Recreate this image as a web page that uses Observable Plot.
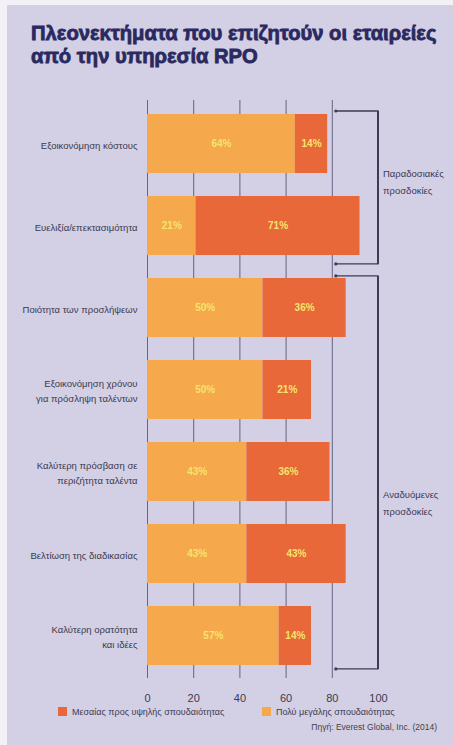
<!DOCTYPE html>
<html><head><meta charset="utf-8">
<script src="https://cdn.jsdelivr.net/npm/d3@7"></script>
<script src="https://cdn.jsdelivr.net/npm/@observablehq/plot@0.6"></script>
<style>
body{margin:0;background:#f3f1f6;width:453px;height:745px;overflow:hidden;position:relative;font-family:"Liberation Sans",Arial,sans-serif}
#bg{position:absolute;left:7px;top:5px;right:0;bottom:0;background:#d3cfe4}
#title{position:absolute;left:31px;top:22px;font-size:20.2px;line-height:23px;font-weight:bold;color:#2a2960;-webkit-text-stroke:0.8px #2a2960;white-space:nowrap}
#chart{position:absolute;left:0;top:85px}
.lg{position:absolute;top:706px;font-size:9px;color:#3a3a55;white-space:nowrap;line-height:12px}
.sw{position:absolute;top:707px;width:9px;height:9px}
#source{position:absolute;top:722px;right:16px;font-size:8.5px;color:#444;white-space:nowrap}
</style></head>
<body>
<div id="bg"></div>
<div id="title">Πλεονεκτήματα που επιζητούν οι εταιρείες<br>από την υπηρεσία RPO</div>
<div id="chart"></div>
<div id="legend"></div>
<div id="source">Πηγή: Everest Global, Inc. (2014)</div>
<script>
const categories = [
  "Εξοικονόμηση κόστους",
  "Ευελιξία/επεκτασιμότητα",
  "Ποιότητα των προσλήψεων",
  "Εξοικονόμηση χρόνου\nγια πρόσληψη ταλέντων",
  "Καλύτερη πρόσβαση σε\nπεριζήτητα ταλέντα",
  "Βελτίωση της διαδικασίας",
  "Καλύτερη ορατότητα\nκαι ιδέες"
];
const veryHigh = [64, 21, 50, 50, 43, 43, 57];
const mediumHigh = [14, 71, 36, 21, 36, 43, 14];
const seriesNames = ["Πολύ μεγάλης σπουδαιότητας", "Μεσαίας προς υψηλής σπουδαιότητας"];
const seriesColors = ["#f6a84c", "#e8683a"];
const xTicks = [0, 20, 40, 60, 80, 100];
const gridTicks = [0, 20, 40, 60, 80];
const groupLabels = ["Παραδοσιακές\nπροσδοκίες", "Αναδυόμενες\nπροσδοκίες"];
const groupFirst = [0, 2];
const groupLast = [1, 6];

const rows = categories.flatMap((c, i) => [
  {cat: c, series: seriesNames[0], value: veryHigh[i]},
  {cat: c, series: seriesNames[1], value: mediumHigh[i]}
]);

const bracketStyle = {topOff: [0.13, 0.09], botOff: [0.39, 0.17], labelFrac: [0.47, 0.58], stroke: "#3b3d58"};

function brackets(index, scales, values, dimensions) {
  const {x, y} = scales;
  const bw = y.bandwidth(), gap = y.step() - bw;
  const g = d3.create("svg:g");
  const xr = x(xTicks[xTicks.length - 1]);
  const xl = x(gridTicks[gridTicks.length - 1]) + 4;
  groupLabels.forEach((label, k) => {
    const top = y(categories[groupFirst[k]]) - gap * bracketStyle.topOff[k];
    const bottom = y(categories[groupLast[k]]) + bw + gap * bracketStyle.botOff[k];
    g.append("path")
      .attr("d", `M${xl},${top}H${xr}V${bottom}H${xl}`)
      .attr("fill", "none").attr("stroke", bracketStyle.stroke).attr("stroke-width", 1.3);
    g.append("line").attr("x1", xr).attr("x2", xr).attr("y1", top).attr("y2", bottom)
      .attr("stroke", bracketStyle.stroke).attr("stroke-width", 2);
    [top, bottom].forEach(yy => g.append("circle").attr("cx", xl).attr("cy", yy).attr("r", 1.6).attr("fill", bracketStyle.stroke));
    const cy = top + (bottom - top) * bracketStyle.labelFrac[k];
    const lines = label.split("\n");
    const t = g.append("text").attr("x", xr + 5).attr("y", cy - (lines.length - 1) * 8.5)
      .attr("font-size", 9.5).attr("fill", "#3a3a55").attr("dominant-baseline", "middle")
      .attr("text-anchor", "start");
    lines.forEach((l, i) => t.append("tspan").attr("x", xr + 5).attr("dy", i ? 17 : 0).text(l));
  });
  return g.node();
}

const chart = Plot.plot({
  width: 453, height: 620,
  marginLeft: 147, marginRight: 75, marginTop: 3, marginBottom: 14.4,
  style: {background: "transparent", fontFamily: "Liberation Sans, Arial, sans-serif"},
  x: {domain: [0, 100], label: null},
  y: {domain: categories, paddingInner: 0.28, paddingOuter: 0.28, axis: null},
  color: {domain: seriesNames, range: seriesColors},
  marks: [
    Plot.ruleX(gridTicks, {x: d => d, stroke: "#585a78", strokeWidth: 1, strokeOpacity: 0.9, insetTop: 12, insetBottom: 12.6}),
    Plot.barX(rows, {y: "cat", x: "value", fill: "series"}),
    Plot.textX(rows, Plot.stackX({y: "cat", x: "value", text: d => d.value + "%", fill: "#f5e46c", fontWeight: "bold", fontSize: 10})),
    Plot.text(categories, {y: d => d, text: d => d, frameAnchor: "left", textAnchor: "end", dx: -10, fontSize: 9.5, fill: "#3a3a50", lineHeight: 1.55}),
    Plot.axisX(xTicks, {tickSize: 0, tickPadding: 3, fontSize: 11, fill: "#3a3a55", label: null}),
    brackets
  ]
});
document.getElementById("chart").appendChild(chart);

const legend = document.getElementById("legend");
const swX = [58, 262];
const order = [1, 0];
order.forEach((s, k) => {
  const sw = document.createElement("div");
  sw.className = "sw"; sw.style.left = swX[k] + "px"; sw.style.background = seriesColors[s];
  legend.appendChild(sw);
  const tx = document.createElement("div");
  tx.className = "lg"; tx.style.left = (swX[k] + 14) + "px"; tx.textContent = seriesNames[s];
  legend.appendChild(tx);
});
</script>
</body></html>
